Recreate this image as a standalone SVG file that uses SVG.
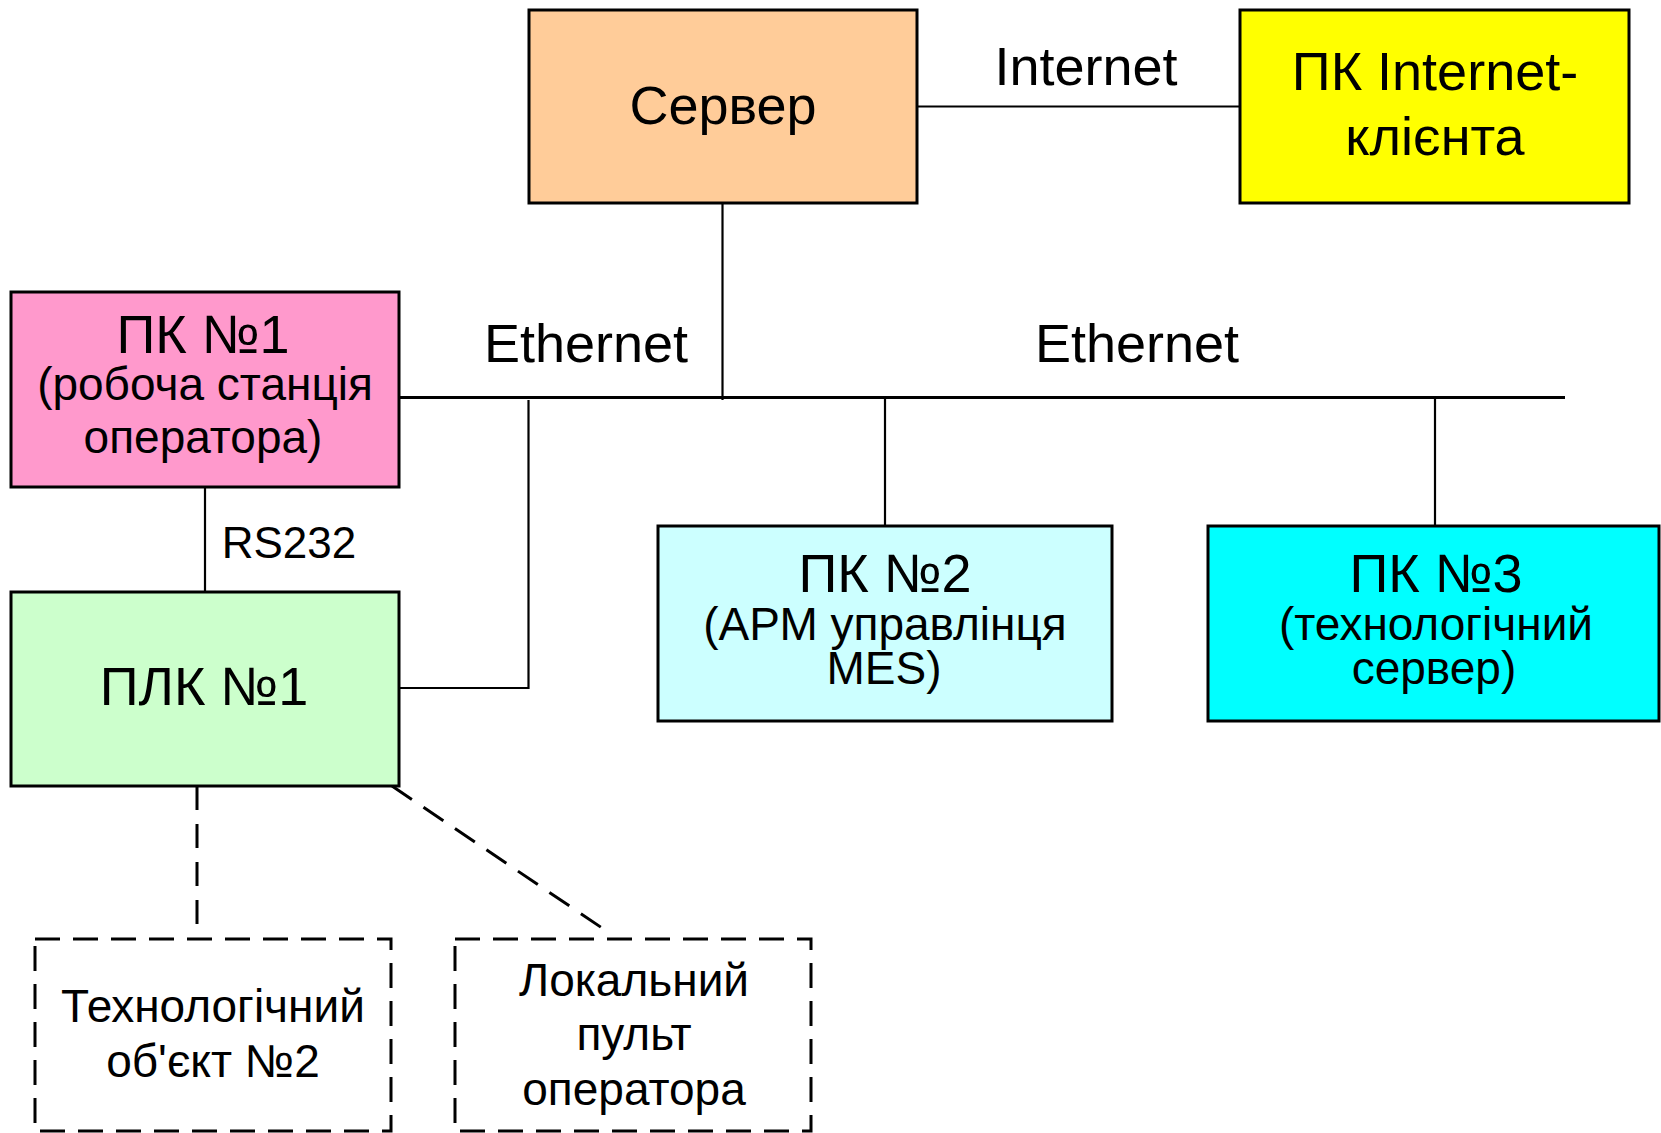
<svg xmlns="http://www.w3.org/2000/svg" width="1661" height="1133" viewBox="0 0 1661 1133">
  <style>
    .box { stroke: #000; stroke-width: 3; }
    .dbox { fill: none; stroke: #000; stroke-width: 3; stroke-dasharray: 25 13; }
    .wire { fill: none; stroke: #000; stroke-width: 2.2; }
    .bus { fill: none; stroke: #000; stroke-width: 3; }
    .dash { fill: none; stroke: #000; stroke-width: 3; stroke-dasharray: 24 14; }
    text { font-family: "Liberation Sans", Arial, sans-serif; fill: #000; text-anchor: middle; }
    .big { font-size: 54px; }
    .sub { font-size: 46px; }
    .lbl { font-size: 54px; }
    .small { font-size: 44px; }
  </style>
  <rect width="1661" height="1133" fill="#fff"/>

  <!-- connectors -->
  <g id="connectors">
    <line class="wire" x1="917" y1="106.5" x2="1240" y2="106.5"/>
    <line class="wire" x1="722.5" y1="203" x2="722.5" y2="400"/>
    <line class="bus" x1="399" y1="397.5" x2="1565" y2="397.5"/>
    <polyline class="wire" points="528.5,400 528.5,688 399,688"/>
    <line class="wire" x1="885" y1="397.5" x2="885" y2="526"/>
    <line class="wire" x1="1435" y1="397.5" x2="1435" y2="526"/>
    <line class="wire" x1="205" y1="487" x2="205" y2="592"/>
    <line class="dash" x1="197" y1="786" x2="197" y2="932"/>
    <line class="dash" x1="392" y1="786" x2="608" y2="932"/>
    <text class="lbl" x="1086" y="85">Internet</text>
    <text class="lbl" x="586" y="362">Ethernet</text>
    <text class="lbl" x="1137" y="362">Ethernet</text>
    <text class="small" x="289" y="558">RS232</text>
  </g>

  <g id="server">
    <rect class="box" x="529" y="10" width="388" height="193" fill="#FFCC99"/>
    <text class="big" x="723" y="124">Сервер</text>
  </g>

  <g id="internet-client">
    <rect class="box" x="1240" y="10" width="389" height="193" fill="#FFFF00"/>
    <text class="big" x="1435" y="90">ПК Internet-</text>
    <text class="big" x="1435" y="155">клієнта</text>
  </g>

  <g id="pc1">
    <rect class="box" x="11" y="292" width="388" height="195" fill="#FF99CC"/>
    <text class="big" x="203" y="353">ПК №1</text>
    <text class="sub" x="205" y="400">(робоча станція</text>
    <text class="sub" x="203" y="453">оператора)</text>
  </g>

  <g id="plc1">
    <rect class="box" x="11" y="592" width="388" height="194" fill="#CCFFCC"/>
    <text class="big" x="204" y="705">ПЛК №1</text>
  </g>

  <g id="pc2">
    <rect class="box" x="658" y="526" width="454" height="195" fill="#CCFFFF"/>
    <text class="big" x="885" y="592">ПК №2</text>
    <text class="sub" x="885" y="640">(АРМ управлінця</text>
    <text class="sub" x="884" y="684">MES)</text>
  </g>

  <g id="pc3">
    <rect class="box" x="1208" y="526" width="451" height="195" fill="#00FFFF"/>
    <text class="big" x="1436" y="592">ПК №3</text>
    <text class="sub" x="1436" y="640">(технологічний</text>
    <text class="sub" x="1434" y="684">сервер)</text>
  </g>

  <g id="tech-object">
    <rect class="dbox" x="35" y="939" width="356" height="192"/>
    <text class="sub" x="213" y="1022">Технологічний</text>
    <text class="sub" x="213" y="1077">об'єкт №2</text>
  </g>

  <g id="local-panel">
    <rect class="dbox" x="455" y="939" width="356" height="192"/>
    <text class="sub" x="634" y="996">Локальний</text>
    <text class="sub" x="634" y="1050">пульт</text>
    <text class="sub" x="634" y="1105">оператора</text>
  </g>
</svg>
